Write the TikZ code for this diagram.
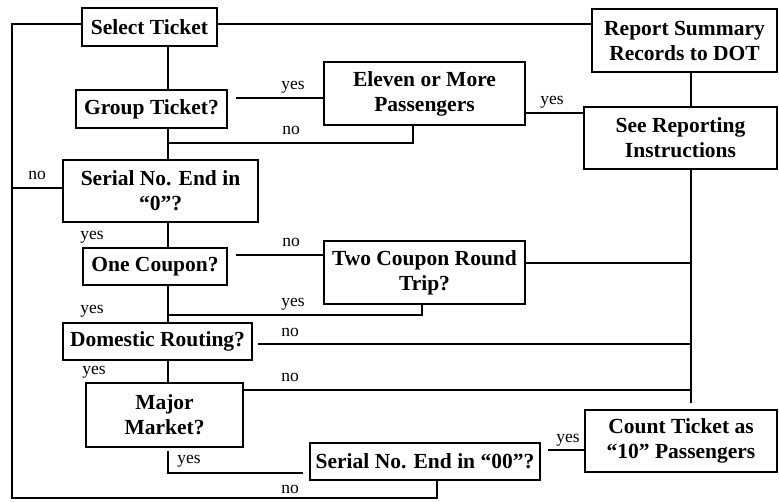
\documentclass[tikz,border=0pt]{standalone}
\usepackage{fontspec}
\setmainfont{Liberation Serif}
\begin{document}
\begin{tikzpicture}[x=1pt,y=-1pt,
  box/.style={draw, line width=1.7pt, inner sep=0pt, align=center,
    font=\bfseries\fontsize{21.5}{25}\selectfont},
  lbl/.style={font=\fontsize{17.5}{17.5}\selectfont, inner sep=0pt, anchor=base},
  conn/.style={line width=1.1pt}]
\useasboundingbox (0,0) rectangle (779,502);
% boxes
\node[box, minimum width=135pt, minimum height=38pt] (sel) at (149.5,27) {Select Ticket};
\node[box, minimum width=151pt, minimum height=38pt] (grp) at (151.5,109) {Group Ticket?};
\node[box, minimum width=201pt, minimum height=63pt] (elv) at (424.5,93.5) {Eleven or More\\Passengers};
\node[box, minimum width=185pt, minimum height=63pt] (rep) at (684.5,40.5) {Report Summary\\Records to DOT};
\node[box, minimum width=193pt, minimum height=62pt] (see) at (680.5,138) {See Reporting\\Instructions};
\node[box, minimum width=195pt, minimum height=62pt] (s0) at (160.5,191) {Serial No. End in\\“0”?};
\node[box, minimum width=144pt, minimum height=37pt] (one) at (155,266.5) {One Coupon?};
\node[box, minimum width=201pt, minimum height=63pt] (two) at (424.5,272.5) {Two Coupon Round\\Trip?};
\node[box, minimum width=189pt, minimum height=37pt] (dom) at (157.5,341.5) {Domestic Routing?};
\node[box, minimum width=157pt, minimum height=64pt] (maj) at (164.5,415) {Major\\Market?};
\node[box, minimum width=230pt, minimum height=37pt] (s00) at (425,461.5) {Serial No. End in “00”?};
\node[box, minimum width=192pt, minimum height=62pt] (cnt) at (681,441) {Count Ticket as\\“10” Passengers};
% helper coordinates
\coordinate (trunk) at (168,0);
\coordinate (rtrunk) at (691,0);
\coordinate (lft) at (12,0);
\coordinate (topY) at (0,24);
\coordinate (botY) at (0,498);
\coordinate (nx) at (437,0);
\coordinate (gy) at (236,98);
\coordinate (gn) at (413,143);
\coordinate (ey) at (0,113);
\coordinate (rend) at (691,403);
\coordinate (s0n) at (0,188);
\coordinate (on) at (236,255);
\coordinate (oy) at (422,315);
\coordinate (ty) at (0,263);
\coordinate (dn) at (258,344);
\coordinate (mn) at (0,390);
\coordinate (mys) at (168,451);
\coordinate (my) at (303,473);
\coordinate (sy) at (548,450);
% connectors
\draw[conn] (sel.south -| trunk) -- (grp.north -| trunk);
\draw[conn] (grp.south -| trunk) -- (s0.north -| trunk);
\draw[conn] (s0.south -| trunk) -- (one.north -| trunk);
\draw[conn] (one.south -| trunk) -- (dom.north -| trunk);
\draw[conn] (dom.south -| trunk) -- (maj.north -| trunk);
\draw[conn] (gy) -- (gy -| elv.west);
\draw[conn] (gn -| trunk) -- (gn) -- (gn |- elv.south);
\draw[conn] (ey -| elv.east) -- (ey -| see.west);
\draw[conn] (topY -| sel.east) -- (topY -| rep.west);
\draw[conn] (rep.south -| rtrunk) -- (see.north -| rtrunk);
\draw[conn] (see.south -| rtrunk) -- (rend);
\draw[conn] (topY -| sel.west) -- (topY -| lft) -- (botY -| lft) -- (botY -| nx) -- (s00.south -| nx);
\draw[conn] (s0n -| s0.west) -- (s0n -| lft);
\draw[conn] (on) -- (on -| two.west);
\draw[conn] (oy -| trunk) -- (oy) -- (oy |- two.south);
\draw[conn] (ty -| two.east) -- (ty -| rtrunk);
\draw[conn] (dn) -- (dn -| rtrunk);
\draw[conn] (mn -| maj.east) -- (mn -| rtrunk);
\draw[conn] (mys) -- (mys |- my) -- (my);
\draw[conn] (sy) -- (sy -| cnt.west);
% labels
\node[lbl] (l1) at (293,90) {yes};
\node[lbl] (l2) at (291,135) {no};
\node[lbl] (l3) at (552,105) {yes};
\node[lbl] (l4) at (37,180) {no};
\node[lbl] (l5) at (92,240) {yes};
\node[lbl] (l6) at (291,247) {no};
\node[lbl] (l7) at (293,307) {yes};
\node[lbl] (l8) at (92,314) {yes};
\node[lbl] (l9) at (290,337) {no};
\node[lbl] (l10) at (94,375) {yes};
\node[lbl] (l11) at (290,382) {no};
\node[lbl] (l12) at (189,463) {yes};
\node[lbl] (l13) at (568,442) {yes};
\node[lbl] (l14) at (290,493) {no};
\end{tikzpicture}
\end{document}
